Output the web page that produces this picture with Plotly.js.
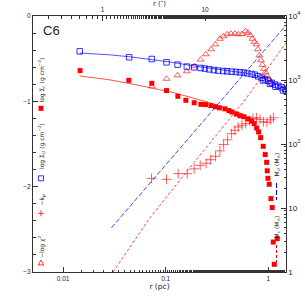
<!DOCTYPE html>
<html><head><meta charset="utf-8">
<script src="https://cdn.plot.ly/plotly-3.0.1.min.js"></script>
<style>html,body{margin:0;padding:0;background:#fff}#chart{width:305px;height:305px}</style>
</head><body><div id="chart"></div><script>
// ---- data ----
// blue open squares: log Sigma_cl
const clR   = [0.01455,0.04405,0.07333,0.1020,0.1306,0.1610,0.1897,0.2190,0.2412,0.2657,0.2953,0.3252,0.3639,0.3981,0.4395,0.4841,0.5295,0.5793,0.6238,0.6887,0.7416,0.7987,0.8622,0.8878,0.9286,1.0,1.039,1.0794,1.1627,1.178,1.2520,1.3510,1.391,1.4551,1.488];
const clSig = [-0.414,-0.484,-0.504,-0.543,-0.570,-0.593,-0.601,-0.609,-0.616,-0.625,-0.633,-0.640,-0.645,-0.648,-0.652,-0.656,-0.660,-0.663,-0.672,-0.680,-0.689,-0.707,-0.724,-0.755,-0.742,-0.759,-0.795,-0.783,-0.804,-0.830,-0.818,-0.836,-0.871,-0.853,-0.877];
// blue model curve
const clFitR   = [0.01455,0.02855,0.04474,0.07012,0.1099,0.1722,0.2699,0.4229,0.6630,0.9286,1.488];
const clFitSig = [-0.434,-0.455,-0.478,-0.505,-0.539,-0.578,-0.613,-0.646,-0.677,-0.736,-0.853];
// red filled squares: log Sigma_c
const cR   = [0.01465,0.04375,0.07333,0.1020,0.1315,0.1574,0.1897,0.2205,0.2450,0.2761,0.3054,0.3341,0.3780,0.4135,0.4423,0.4895,0.5295,0.5793,0.6381,0.6887,0.7301,0.7705,0.8060,0.8431,0.8937,0.9348,0.9647,0.9777,0.9933,1.0228,1.0624,1.0939,1.1189,1.2240,1.1442];
const cSig = [-0.640,-0.754,-0.789,-0.874,-0.941,-0.988,-1.017,-1.035,-1.038,-1.050,-1.064,-1.076,-1.088,-1.109,-1.125,-1.150,-1.170,-1.181,-1.205,-1.231,-1.261,-1.313,-1.359,-1.425,-1.527,-1.624,-1.715,-1.814,-1.902,-1.972,-2.140,-2.245,-2.649,-2.609,-2.910];
// red model curve
const cFitR   = [0.01455,0.02855,0.04474,0.07012,0.1099,0.1722,0.2699,0.4229,0.5925];
const cFitSig = [-0.703,-0.748,-0.792,-0.836,-0.888,-0.950,-1.017,-1.093,-1.158];
// red open triangles: -log chi^2
const chiR   = [0.07333,0.1020,0.1306,0.1610,0.1897,0.2190,0.2467,0.2779,0.3054,0.3379,0.3655,0.3981,0.4325,0.4732,0.5121,0.5538,0.5990,0.6339,0.6704,0.7013,0.7334,0.7671,0.7934,0.8205,0.8488,0.8778,0.9079,0.9391,0.9712,1.0158,1.0624];
const chiVal = [-0.824,-0.736,-0.695,-0.648,-0.589,-0.511,-0.449,-0.390,-0.332,-0.267,-0.238,-0.214,-0.206,-0.206,-0.214,-0.211,-0.179,-0.197,-0.226,-0.267,-0.302,-0.332,-0.390,-0.461,-0.519,-0.572,-0.619,-0.660,-0.701,-0.742,-0.777];
// red plus: -k_rho
const kR   = [0.07283,0.1020,0.1324,0.1621,0.1897,0.2171,0.2483,0.2748,0.3068,0.3379,0.3672,0.4017,0.4395,0.4732,0.5097,0.5538,0.6030,0.6556,0.7090,0.7671,0.8299,0.8979,0.9712,1.0507,1.1239];
const kVal = [-1.902,-1.914,-1.847,-1.847,-1.791,-1.750,-1.726,-1.684,-1.644,-1.580,-1.507,-1.451,-1.378,-1.339,-1.301,-1.281,-1.261,-1.228,-1.199,-1.193,-1.211,-1.240,-1.246,-1.216,-1.193];
// cumulative masses (right axis)
const mclR = [0.02966,0.07012,0.2157,0.6630,1.488];
const mclM = [4.905,24.3,196,1607,7159];
const mcR  = [0.03074,0.03573,0.04474,0.05602,0.07012,0.08777,0.1099,0.1539,0.2157,0.3020,0.4229,0.5793,0.8299,1.488];
const mcM  = [1.0,1.433,2.459,4.217,7.03,11.02,17.59,34.2,66.6,128.6,248.5,464.7,1025,3811];
// axis tick labels
const pcTicks = [0.01, 0.1, 1];
const pcTickText = ['0.01','0.1','1'];
const arcTicks = [1, 10];
const arcTickText = ['1','10'];

const RED = 'rgb(255,0,0)', BLUE = 'rgb(0,0,255)';
const traces = [
  {x: clFitR, y: clFitSig, mode:'lines', line:{color:'rgba(40,40,255,0.8)', width:1}},
  {x: cFitR, y: cFitSig, mode:'lines', line:{color:'rgba(255,40,40,0.8)', width:1}},
  {x: mclR, y: mclM, yaxis:'y2', mode:'lines', line:{color:'rgba(40,40,255,0.85)', width:1, dash:'5px,2px'}},
  {x: mcR, y: mcM, yaxis:'y2', mode:'lines', line:{color:'rgba(255,40,40,0.85)', width:1, dash:'3px,2px'}},
  {x: chiR, y: chiVal, mode:'markers', marker:{symbol:'triangle-up-open', size:6, color:'rgba(255,30,30,0.9)', line:{width:0.8}}},
  {x: kR, y: kVal, mode:'markers', marker:{symbol:'cross-thin-open', size:7, color:'rgba(255,30,30,0.9)', line:{width:0.8, color:'rgba(255,30,30,0.9)'}}},
  {x: clR, y: clSig, mode:'markers', marker:{symbol:'square-open', size:5.5, color:BLUE, line:{width:0.8}}},
  {x: cR, y: cSig, mode:'markers', marker:{symbol:'square', size:5, color:RED, line:{width:0}}},
  {x: [], y: [], xaxis:'x2', mode:'markers'}
];
traces.forEach(t => t.showlegend = false);

// pixel -> paper helpers for decoration
const L=33, R=19, T=16, B=33, W=305-L-R, H=305-T-B;
const px = x => (x-L)/W, py = y => (305-B-y)/H;
const AX = '#333';
const tickFont = {family:'Liberation Sans, Arial, sans-serif', size:6.5, color:'#222'};
const labFont = {family:'DejaVu Sans, Liberation Sans, sans-serif', size:6, color:'#222'};

const ann = (x,y,text,extra) => Object.assign({xref:'paper', yref:'paper', x:px(x), y:py(y), text, showarrow:false, font:labFont, textangle:-90, xanchor:'center', yanchor:'middle'}, extra||{});
const annotations = [
  ann(51,30,'C6',{textangle:0, font:{family:'Liberation Sans, Arial, sans-serif', size:13, color:'#222'}}),
  ann(41.5,80,'log Σ<sub>c</sub> (g cm<sup>−2</sup>)'),
  ann(41.5,146.5,'log Σ<sub>cl</sub> (g cm<sup>−2</sup>)'),
  ann(41.5,200,'−k<sub>ρ</sub>'),
  ann(41.5,246.5,'−log χ<sup>2</sup>'),
  ann(276.5,165,'M<sub>cl</sub> (M<sub>⊙</sub>)'),
  ann(276.5,227,'M<sub>c</sub> (M<sub>⊙</sub>)')
];
const sq = 2.5;
const shapes = [
  {type:'rect', xref:'paper', yref:'paper', x0:px(41-sq), x1:px(41+sq), y0:py(108.3+sq), y1:py(108.3-sq), fillcolor:RED, line:{width:0}},
  {type:'rect', xref:'paper', yref:'paper', x0:px(41-sq), x1:px(41+sq), y0:py(178.3+sq), y1:py(178.3-sq), line:{color:BLUE, width:0.8}},
  {type:'line', xref:'paper', yref:'paper', x0:px(38), x1:px(44), y0:py(213.3), y1:py(213.3), line:{color:RED, width:0.8}},
  {type:'line', xref:'paper', yref:'paper', x0:px(41), x1:px(41), y0:py(210.3), y1:py(216.3), line:{color:RED, width:0.8}},
  {type:'path', xref:'paper', yref:'paper', path:`M ${px(38.3)} ${py(265)} L ${px(43.7)} ${py(265)} L ${px(41)} ${py(260)} Z`, line:{color:RED, width:0.8}},
  {type:'line', xref:'paper', yref:'paper', x0:px(276.5), x1:px(276.5), y0:py(183), y1:py(200), line:{color:BLUE, width:1, dash:'5px,2px'}},
  {type:'line', xref:'paper', yref:'paper', x0:px(276.5), x1:px(276.5), y0:py(245), y1:py(266), line:{color:RED, width:1, dash:'3px,2px'}}
];

const common = {showline:true, linecolor:AX, linewidth:1, ticks:'inside', tickcolor:AX, tickwidth:1, ticklen:5,
  showgrid:false, zeroline:false, tickfont:tickFont, automargin:false};
const layout = {
  width:305, height:305, margin:{l:L, r:R, t:T, b:B, pad:0},
  paper_bgcolor:'#fff', plot_bgcolor:'#fff', showlegend:false,
  xaxis: Object.assign({}, common, {type:'log', range:[-2.293,0.173], tickvals:pcTicks, ticktext:pcTickText,
    minor:{ticks:'inside', ticklen:2.5, tickcolor:AX, tickwidth:1, showgrid:false},
    title:{text:'r (pc)', font:{family:'DejaVu Sans, sans-serif', size:7.5, color:'#222'}, standoff:2}}),
  xaxis2: Object.assign({}, common, {type:'log', overlaying:'x', side:'top', anchor:'y', range:[-0.677,1.789],
    tickvals:arcTicks, ticktext:arcTickText,
    minor:{ticks:'inside', ticklen:2.5, tickcolor:AX, tickwidth:1, showgrid:false},
    title:{text:'r (″)', font:{family:'DejaVu Sans, sans-serif', size:7, color:'#222'}, standoff:0}}),
  yaxis: Object.assign({}, common, {range:[-3,0], dtick:1, tick0:0,
    minor:{ticks:'inside', ticklen:2.5, dtick:0.2, tickcolor:AX, tickwidth:1, showgrid:false}}),
  yaxis2: Object.assign({}, common, {type:'log', overlaying:'y', side:'right', anchor:'x', range:[0,4], dtick:1, exponentformat:'power',
    minor:{ticks:'inside', ticklen:2.5, tickcolor:AX, tickwidth:1, showgrid:false}}),
  annotations, shapes
};
Plotly.newPlot('chart', traces, layout, {staticPlot:true, displayModeBar:false});
</script></body></html>
